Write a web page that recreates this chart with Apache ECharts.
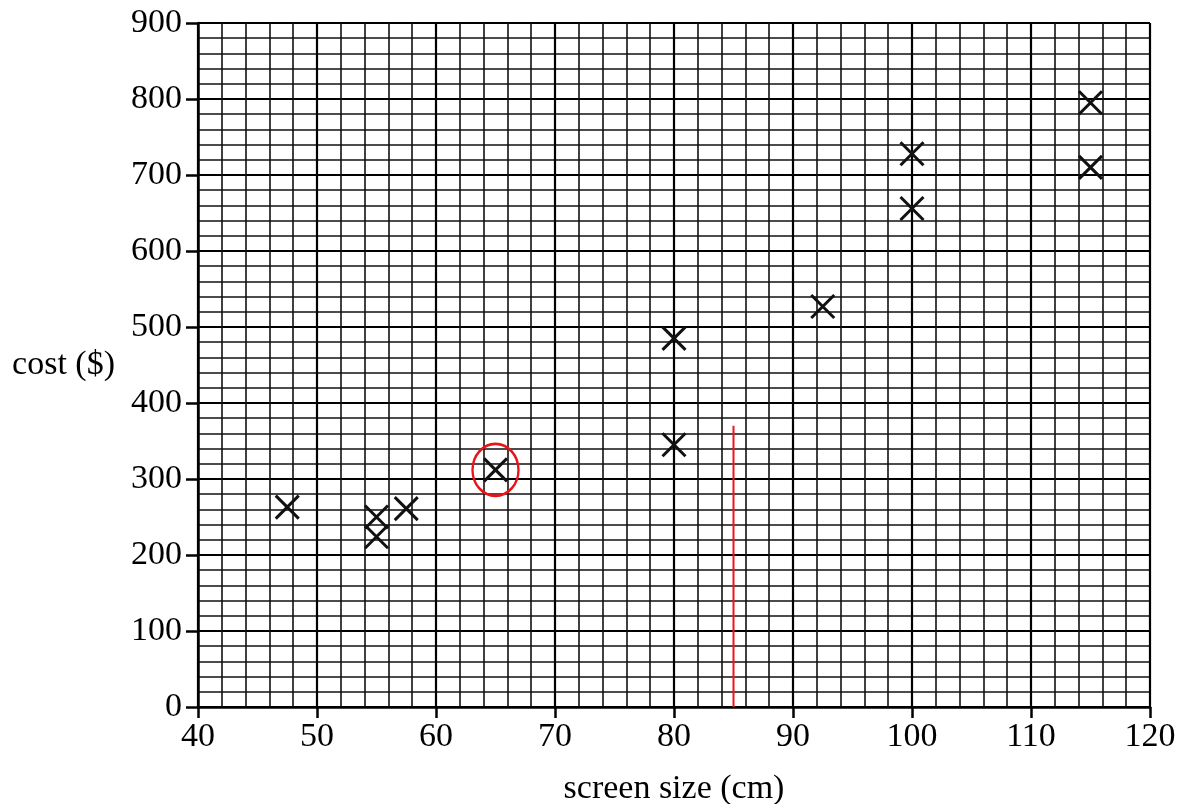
<!DOCTYPE html>
<html>
<head>
<meta charset="utf-8">
<script src="https://cdn.jsdelivr.net/npm/echarts@6/dist/echarts.min.js"></script>
<style>
html,body{margin:0;padding:0;background:#fff;}
#chart{width:1177px;height:804px;}
</style>
</head>
<body>
<div id="chart"></div>
<script>
const screenSize = [47.5, 55, 55, 57.5, 65, 80, 80, 92.5, 100, 100, 115, 115];
const cost = [263, 250, 224, 261, 312, 485, 345, 527, 728, 656, 795, 710];
const circledPoint = [65, 312];
const redLineX = 85;
const redLineTop = 370;
const xTicks = [40, 50, 60, 70, 80, 90, 100, 110, 120];
const yTicks = [0, 100, 200, 300, 400, 500, 600, 700, 800, 900];

const points = screenSize.map((x, i) => [x, cost[i]]);
const font = '"Liberation Serif", "DejaVu Serif", serif';

const chart = echarts.init(document.getElementById('chart'));
chart.setOption({
  animation: false,
  backgroundColor: '#ffffff',
  grid: {left: 198, right: 27, top: 23, bottom: 97, containLabel: false, outerBoundsMode: 'none'},
  xAxis: {
    type: 'value',
    min: xTicks[0], max: xTicks[xTicks.length - 1], interval: 10,
    name: 'screen size (cm)',
    nameLocation: 'middle',
    nameGap: 65,
    nameTextStyle: {fontFamily: font, fontSize: 34, color: '#000'},
    axisLine: {show: true, lineStyle: {color: '#000', width: 2.5}},
    axisTick: {show: true, length: 11, lineStyle: {color: '#000', width: 2.5}},
    axisLabel: {fontFamily: font, fontSize: 34, color: '#000', margin: 13},
    splitLine: {show: true, lineStyle: {color: '#000', width: 2.2}},
    minorTick: {show: false, splitNumber: 5},
    minorSplitLine: {show: true, lineStyle: {color: '#111', width: 1.6}}
  },
  yAxis: {
    type: 'value',
    min: yTicks[0], max: yTicks[yTicks.length - 1], interval: 100,
    name: 'cost ($)',
    nameLocation: 'middle',
    nameRotate: 0,
    nameGap: 83,
    nameTextStyle: {fontFamily: font, fontSize: 34, color: '#000'},
    axisLine: {show: true, lineStyle: {color: '#000', width: 2.5}},
    axisTick: {show: true, length: 12, lineStyle: {color: '#000', width: 2.5}},
    axisLabel: {fontFamily: font, fontSize: 34, color: '#000', margin: 16},
    splitLine: {show: true, lineStyle: {color: '#000', width: 2.2}},
    minorTick: {show: false, splitNumber: 5},
    minorSplitLine: {show: true, lineStyle: {color: '#111', width: 1.6}}
  },
  series: [
    {
      type: 'scatter',
      data: points,
      symbol: 'path://M0,0L10,10M10,0L0,10',
      symbolSize: 23,
      itemStyle: {color: 'rgba(0,0,0,0)', borderColor: '#111', borderWidth: 3, opacity: 1},
      z: 5
    },
    {
      type: 'scatter',
      data: [circledPoint],
      symbol: 'circle',
      symbolSize: [46, 52],
      itemStyle: {color: 'rgba(0,0,0,0)', borderColor: '#e8141a', borderWidth: 2.5, opacity: 1},
      z: 6
    },
    {
      type: 'line',
      data: [[redLineX, 0], [redLineX, redLineTop]],
      symbol: 'none',
      lineStyle: {color: '#f0141a', width: 2},
      z: 6
    }
  ]
});
</script>
</body>
</html>
